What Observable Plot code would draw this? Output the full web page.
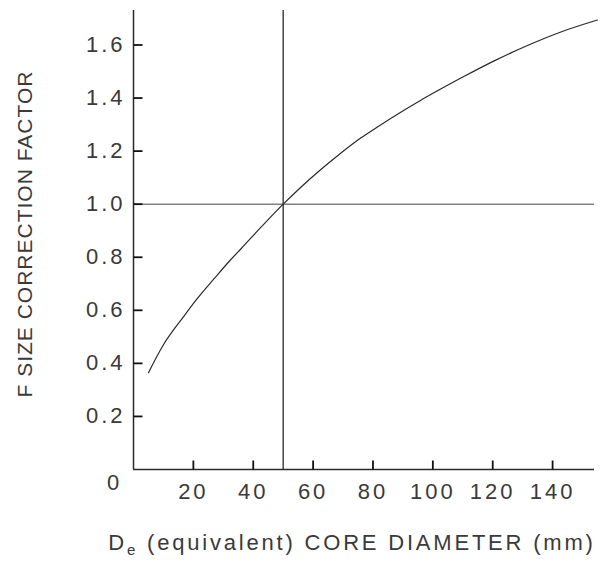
<!DOCTYPE html>
<html><head><meta charset="utf-8">
<script src="https://cdn.jsdelivr.net/npm/d3@7"></script>
<script src="https://cdn.jsdelivr.net/npm/@observablehq/plot@0.6"></script>
<style>body{margin:0;background:#fff} svg{display:block}</style>
</head><body><div id="chart"></div>
<script>
// Data
const diameters = [5, 10, 17, 21, 27, 32, 36, 43, 50, 56, 62, 69, 76, 82, 89, 96, 102, 110, 121, 132, 143, 155];
const factors   = [0.365, 0.47, 0.58, 0.64, 0.72, 0.785, 0.833, 0.918, 1.00, 1.065, 1.125, 1.19, 1.25, 1.295, 1.345, 1.392, 1.43, 1.479, 1.543, 1.60, 1.65, 1.694];
const xTicks = [20, 40, 60, 80, 100, 120, 140];
const yTicks = [0.2, 0.4, 0.6, 0.8, 1.0, 1.2, 1.4, 1.6];
const referenceDiameter = [50];
const referenceFactor = [1.0];
const xTitle = "De (equivalent) CORE DIAMETER (mm)";
const yTitle = "F SIZE CORRECTION FACTOR";

const curve = diameters.map((d, i) => ({d, f: factors[i]}));
const ink = "#2a2a2a";
const textInk = "#3a3a3a";
const font = "Liberation Sans, Arial, sans-serif";

const W = 602, H = 570, mL = 133, mR = 8, mT = 10, mB = 101;
const xDomain = [0, 154], yDomain = [0, 1.73];
const tickPx = 9;
// inward tick length converted to data units
const tickDx = tickPx * (xDomain[1] - xDomain[0]) / (W - mL - mR);
const tickDy = tickPx * (yDomain[1] - yDomain[0]) / (H - mT - mB);

const chart = Plot.plot({
  width: W,
  height: H,
  marginLeft: mL,
  marginRight: mR,
  marginTop: mT,
  marginBottom: mB,
  style: {fontFamily: font, color: ink, background: "#fff"},
  x: {domain: xDomain},
  y: {domain: yDomain},
  marks: [
    Plot.ruleY(referenceFactor, {stroke: "#444", strokeWidth: 1}),
    Plot.ruleX(referenceDiameter, {stroke: ink, strokeWidth: 1.3}),
    Plot.ruleX([0], {stroke: ink, strokeWidth: 1.5}),
    Plot.ruleY([0], {stroke: ink, strokeWidth: 1.5}),
    // inward-pointing ticks
    Plot.link(xTicks, {x1: d => d, x2: d => d, y1: () => 0, y2: () => tickDy, stroke: "#111", strokeWidth: 1.8}),
    Plot.link(yTicks, {y1: d => d, y2: d => d, x1: () => 0, x2: () => tickDx, stroke: "#111", strokeWidth: 1.8}),
    // tick labels
    Plot.axisX({ticks: xTicks, tickSize: 0, tickPadding: 14, fontSize: 22, fill: textInk, label: null, tickFormat: d => String(d)}),
    Plot.axisY({ticks: yTicks, tickSize: 0, tickPadding: 8, fontSize: 22, fill: textInk, label: null, tickFormat: d3.format(".1f")}),
    Plot.text([0], {x: 0, y: 0, text: () => "0", dx: -19, dy: 13, fontSize: 22, fill: textInk}),
    Plot.line(curve, {x: "d", y: "f", stroke: ink, strokeWidth: 1.2, curve: "monotone-x", clip: false}),
    Plot.text([yTitle], {frameAnchor: "left", textAnchor: "middle", rotate: -90, dx: -108, dy: -6, text: d => d, fontSize: 21, fill: textInk}),
    Plot.text([xTitle], {frameAnchor: "bottom", textAnchor: "middle", dy: 80, dx: -12, text: d => d, fontSize: 22, fill: textInk})
  ]
});
chart.querySelectorAll("text").forEach(t => {
  t.style.letterSpacing = t.textContent === yTitle ? "1px" : t.textContent === xTitle ? "2.8px" : "3px";
});
document.getElementById("chart").appendChild(chart);

// subscript "e" in the x title
const xt = [...chart.querySelectorAll("text")].find(t => t.textContent === xTitle);
if (xt) {
  xt.textContent = "";
  const ns = "http://www.w3.org/2000/svg";
  const parts = [["D", null], ["e", "sub"], [" (equivalent) CORE DIAMETER (mm)", null]];
  for (const [s, kind] of parts) {
    const ts = document.createElementNS(ns, "tspan");
    ts.textContent = s;
    if (kind === "sub") { ts.setAttribute("font-size", "15"); ts.setAttribute("dy", "5"); }
    else if (s !== "D") { ts.setAttribute("dy", "-5"); }
    xt.appendChild(ts);
  }
}
</script></body></html>
